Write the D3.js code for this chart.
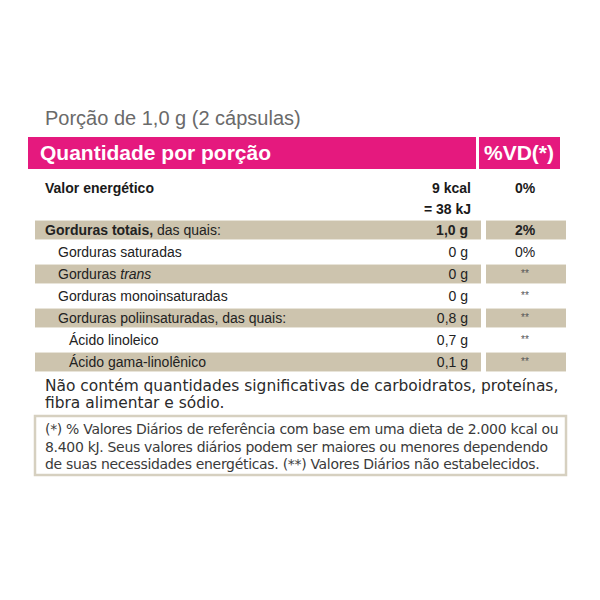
<!DOCTYPE html>
<html>
<head>
<meta charset="utf-8">
<script src="https://cdn.jsdelivr.net/npm/d3@7"></script>
<style>
  body { margin: 0; background: #fff; }
  svg { display: block; }
</style>
</head>
<body>
<div id="tabela"></div>
<script>
// dados da tabela
var porcao = "Porção de 1,0 g (2 cápsulas)";
var cabecalho = ["Quantidade por porção", "%VD(*)"];
var energia = { nome: "Valor energético", kcal: "9 kcal", kj: "= 38 kJ", vd: "0%" };

var nutrientes = ["Gorduras totais", "Gorduras saturadas", "Gorduras trans", "Gorduras monoinsaturadas",
    "Gorduras poliinsaturadas", "Ácido linoleico", "Ácido gama-linolênico"];
var quantidades = ["1,0 g", "0 g", "0 g", "0 g", "0,8 g", "0,7 g", "0,1 g"];
var valoresDiarios = ["2%", "0%", "**", "**", "**", "**", "**"];
var niveis = [0, 1, 1, 1, 1, 2, 2];

var notaNao = ["Não contém quantidades significativas de carboidratos, proteínas,",
    "fibra alimentar e sódio."];
var notaRodape = ["(*) % Valores Diários de referência com base em uma dieta de 2.000 kcal ou",
    "8.400 kJ. Seus valores diários podem ser maiores ou menores dependendo",
    "de suas necessidades energéticas. (**) Valores Diários não estabelecidos."];

var width = 600, height = 600;
var pink = "#e5197e", tan = "#cdc4ae";

var svg = d3.select("#tabela").append("svg")
    .attr("width", width)
    .attr("height", height)
    .style("font-family", "'Liberation Sans', Arial, Helvetica, sans-serif");

// linhas da tabela
var y = d3.scaleBand()
    .domain(nutrientes)
    .range([219, 219 + 22 * nutrientes.length])
    .paddingInner(0.14)
    .paddingOuter(0.07);

var indent = d3.scaleOrdinal().domain([0, 1, 2]).range([45, 58, 69]);

// titulo
svg.append("text")
    .attr("x", 45).attr("y", 125)
    .attr("fill", "#6a6a6a")
    .style("font-size", "20px")
    .style("font-weight", 300)
    .text(porcao);

// cabecalho rosa
svg.append("rect").attr("x", 28).attr("y", 137).attr("width", 448).attr("height", 32).attr("fill", pink);
svg.append("rect").attr("x", 479).attr("y", 137).attr("width", 81).attr("height", 32).attr("fill", pink);
svg.append("text").attr("x", 40).attr("y", 160)
    .attr("fill", "#fff").style("font-size", "21px").style("font-weight", "bold")
    .text(cabecalho[0]);
svg.append("text").attr("x", 519).attr("y", 160).attr("text-anchor", "middle")
    .attr("fill", "#fff").style("font-size", "21px").style("font-weight", "bold")
    .text(cabecalho[1]);

// valor energetico
var en = svg.append("g").style("font-size", "14px").style("font-weight", "bold").attr("fill", "#1a1a1a");
en.append("text").attr("x", 45).attr("y", 193).text(energia.nome);
en.append("text").attr("x", 471).attr("y", 193).attr("text-anchor", "end").text(energia.kcal);
en.append("text").attr("x", 471).attr("y", 214).attr("text-anchor", "end").text(energia.kj);
en.append("text").attr("x", 525).attr("y", 193).attr("text-anchor", "middle").text(energia.vd);

// faixas bege
var faixas = svg.append("g");
nutrientes.forEach(function (d, i) {
    if (i % 2 === 0) {
        faixas.append("rect").attr("x", 35).attr("y", y(d)).attr("width", 446)
            .attr("height", y.bandwidth()).attr("fill", tan);
        faixas.append("rect").attr("x", 486).attr("y", y(d)).attr("width", 80)
            .attr("height", y.bandwidth()).attr("fill", tan);
    }
});

var linhas = svg.append("g").style("font-size", "14px").attr("fill", "#222");
nutrientes.forEach(function (d, i) {
    var yy = y(d) + y.bandwidth() / 2 + 5;
    var t = linhas.append("text").attr("x", indent(niveis[i])).attr("y", yy);
    if (i === 0) {
        t.append("tspan").style("font-weight", "bold").text(d + ",");
        t.append("tspan").text(" das quais:");
    } else if (d === "Gorduras trans") {
        t.append("tspan").text("Gorduras ");
        t.append("tspan").style("font-style", "italic").text("trans");
    } else if (d === "Gorduras poliinsaturadas") {
        t.text(d + ", das quais:");
    } else {
        t.text(d);
    }
    linhas.append("text").attr("x", 468).attr("y", yy).attr("text-anchor", "end")
        .style("font-weight", i === 0 ? "bold" : null)
        .text(quantidades[i]);
    linhas.append("text").attr("x", 525).attr("y", valoresDiarios[i] === "**" ? yy - 2 : yy)
        .attr("text-anchor", "middle")
        .style("font-weight", i === 0 ? "bold" : null)
        .style("font-size", valoresDiarios[i] === "**" ? "10px" : null)
        .attr("fill", valoresDiarios[i] === "**" ? "#555" : null)
        .text(valoresDiarios[i]);
});

// ajusta o tamanho da fonte para a largura alvo
function ajusta(g, alvo) {
    var first = g.select("text").node();
    var w = first.getComputedTextLength();
    var fs = parseFloat(d3.select(first).style("font-size"));
    g.selectAll("text").style("font-size", (fs * alvo / w) + "px");
}

var nota = svg.append("g").attr("fill", "#2a2a2a")
    .style("font-family", "'DejaVu Sans', sans-serif");
nota.selectAll("text").data(notaNao).enter().append("text")
    .attr("x", 45).attr("y", function (d, i) { return 391 + i * 17; })
    .style("font-size", "13px")
    .text(function (d) { return d; });
ajusta(nota, 514);

// caixa do rodape
svg.append("rect").attr("x", 35).attr("y", 416).attr("width", 531).attr("height", 59)
    .attr("fill", "none").attr("stroke", "#d6d0c0").attr("stroke-width", 2.5);

var rod = svg.append("g").attr("fill", "#3a3a3a")
    .style("font-family", "'DejaVu Sans', sans-serif");
rod.selectAll("text").data(notaRodape).enter().append("text")
    .attr("x", 45).attr("y", function (d, i) { return 434 + i * 17.5; })
    .style("font-size", "13px")
    .style("letter-spacing", "-0.3px")
    .text(function (d) { return d; });
ajusta(rod, 512);
</script>
</body>
</html>
